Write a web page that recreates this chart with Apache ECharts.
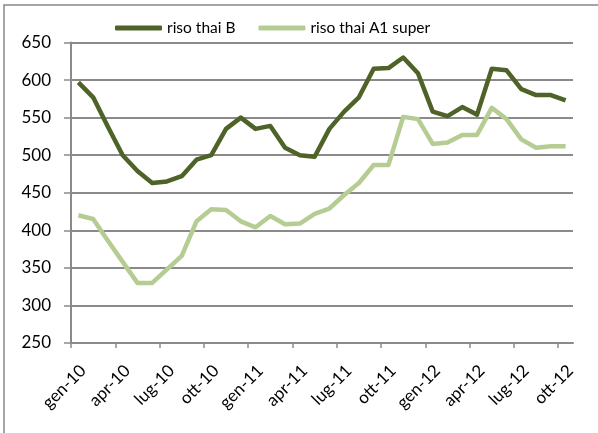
<!DOCTYPE html>
<html>
<head>
<meta charset="utf-8">
<style>
  html, body { margin: 0; padding: 0; background: #fff; }
  #chart { width: 598px; height: 433px; }
</style>
<script src="https://cdn.jsdelivr.net/npm/echarts@6/dist/echarts.min.js"></script>
</head>
<body>
<div id="chart"></div>
<script>
// Monthly rice prices, January 2010 – October 2012
const months = [
  'gen-10','feb-10','mar-10','apr-10','mag-10','giu-10','lug-10','ago-10','set-10','ott-10','nov-10','dic-10',
  'gen-11','feb-11','mar-11','apr-11','mag-11','giu-11','lug-11','ago-11','set-11','ott-11','nov-11','dic-11',
  'gen-12','feb-12','mar-12','apr-12','mag-12','giu-12','lug-12','ago-12','set-12','ott-12'
];
const risoThaiB = [597, 577, 538, 500, 479, 463, 465, 472, 494, 500, 535, 550,
                   535, 539, 510, 500, 498, 535, 558, 577, 615, 616, 630, 609,
                   558, 552, 564, 554, 615, 613, 588, 580, 580, 573];
const risoThaiA1 = [420, 415, 386, 358, 330, 330, 348, 366, 412, 428, 427, 412,
                    404, 419, 408, 409, 422, 429, 447, 463, 487, 487, 551, 548,
                    515, 517, 527, 527, 563, 548, 521, 510, 512, 512];
const yTicks = [250, 300, 350, 400, 450, 500, 550, 600, 650];
const seriesNames = ['riso thai B', 'riso thai A1 super'];

// quarterly tick positions (start of each quarter's month band)
const quarterStarts = months.map((m, i) => i).filter(i => i % 3 === 0);
// slanted labels hang just after their tick
const LABEL_SHIFT = 0.82;
const labelPositions = quarterStarts.map(i => i + LABEL_SHIFT);

// each month is plotted in the middle of its band on the time axis
const toPoints = vals => vals.map((v, i) => [i + 0.5, v]);

const FONT = 'Lato, "Open Sans", sans-serif';
const GRID_COLOR = '#8a8a8a';

const chart = echarts.init(document.getElementById('chart'), null, { renderer: 'canvas' });
chart.setOption({
  animation: false,
  textStyle: { fontFamily: FONT },
  graphic: [{
    type: 'rect',
    shape: { x: 4, y: 5, width: 700, height: 600 },
    style: { fill: 'none', stroke: '#888', lineWidth: 1.5 },
    silent: true
  }],
  legend: {
    left: 110,
    top: 15,
    icon: 'roundRect',
    itemWidth: 47,
    itemHeight: 5,
    itemGap: 23,
    textStyle: { fontFamily: FONT, fontSize: 15.5, color: '#000' },
    data: seriesNames
  },
  grid: { left: 71, right: 25, top: 42.5, bottom: 90, containLabel: false },
  xAxis: {
    type: 'value',
    min: 0,
    max: months.length,
    splitLine: { show: false },
    axisLine: { show: true, lineStyle: { color: GRID_COLOR, width: 2 } },
    axisTick: {
      show: true, length: 5, customValues: quarterStarts,
      lineStyle: { color: GRID_COLOR, width: 1.5 }
    },
    axisLabel: {
      customValues: labelPositions,
      formatter: v => months[Math.floor(v)] || '',
      rotate: 45,
      margin: 25,
      fontSize: 17,
      color: '#000',
      fontFamily: FONT
    }
  },
  yAxis: {
    type: 'value',
    min: yTicks[0],
    max: yTicks[yTicks.length - 1],
    interval: 50,
    axisLine: { show: true, lineStyle: { color: GRID_COLOR, width: 2 } },
    axisTick: { show: true, length: 7, lineStyle: { color: GRID_COLOR, width: 1.5 } },
    axisLabel: { margin: 20, fontSize: 17, color: '#000', fontFamily: FONT },
    splitLine: { show: true, lineStyle: { color: GRID_COLOR, width: 2 } }
  },
  series: [
    {
      name: seriesNames[0],
      type: 'line',
      data: toPoints(risoThaiB),
      showSymbol: false,
      color: '#4F6228',
      lineStyle: { width: 4.5, color: '#4F6228', join: 'round' },
      z: 3
    },
    {
      name: seriesNames[1],
      type: 'line',
      data: toPoints(risoThaiA1),
      showSymbol: false,
      color: '#B5CD93',
      lineStyle: { width: 4.5, color: '#B5CD93', join: 'round' },
      z: 2
    }
  ]
});
</script>
</body>
</html>
